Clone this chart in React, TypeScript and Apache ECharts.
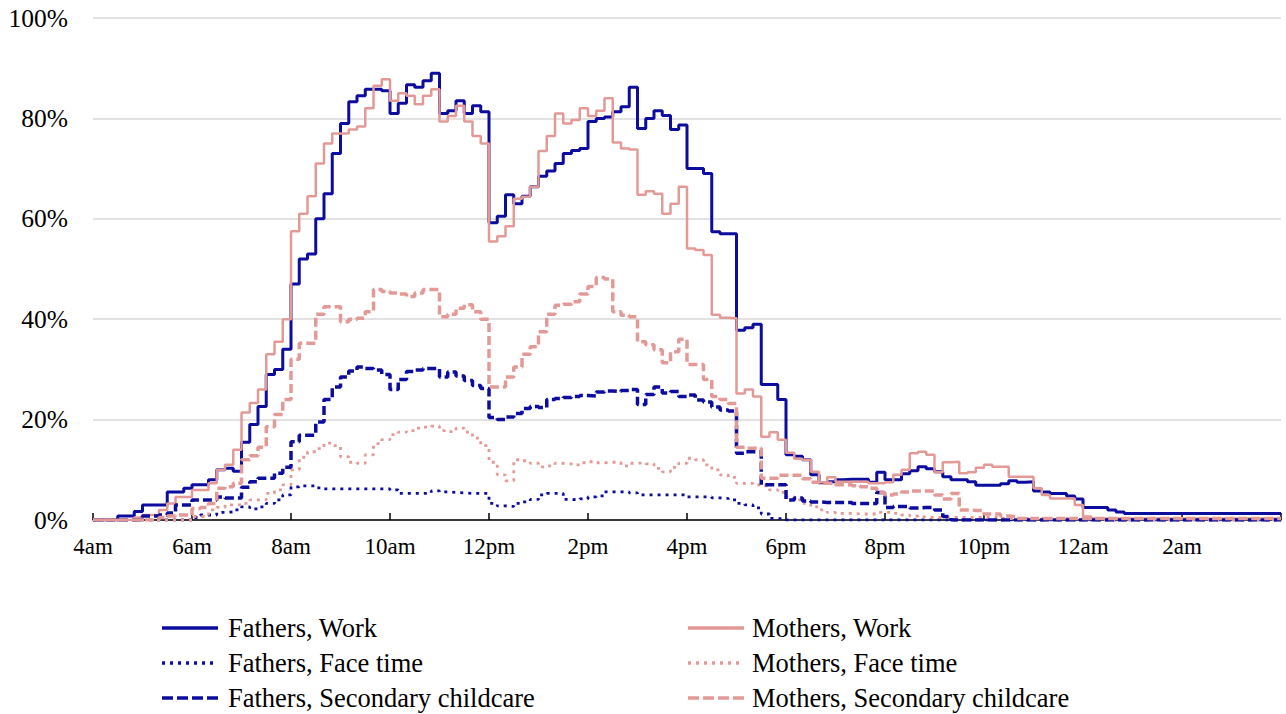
import React, { useEffect, useRef } from 'react';
import * as echarts from 'echarts';

// Share of parents (%) engaged in each activity, in 10-minute slots from 4am to 4am the next day.
const HOUR_LABELS = ['4am', '6am', '8am', '10am', '12pm', '2pm', '4pm', '6pm', '8pm', '10pm', '12am', '2am'];
const SLOTS_PER_HOUR = 6;

const FATHERS_WORK = [
  0, 0, 0, 0.8, 0.8, 1.7,
  3, 3, 3, 5.6, 5.6, 6.3,
  7, 7, 8, 10, 10.3, 9.7,
  15.5, 19, 22.6, 29, 30, 34,
  47, 52, 53, 60, 65, 73,
  79, 83.3, 84.5, 85.8, 85.8, 85.5,
  81, 83, 86.7, 86.2, 87.5, 89,
  81, 81.5, 83.5, 81, 82.5, 81.3,
  59.2, 60.5, 64.8, 63, 64.5, 66.4,
  68.5, 69.5, 71, 73, 73.6, 74,
  79.4, 80, 80.3, 81.3, 82.3, 86.2,
  78, 80, 81.5, 80.6, 77.8, 78.7,
  70, 70, 69, 57.4, 57, 57,
  37.8, 38.3, 39, 27, 27, 24,
  13, 12.7, 12, 9, 7.4, 7.6,
  8, 8.1, 8.1, 8.1, 7.5, 9.5,
  8, 8, 9.2, 9.8, 10.6, 10.2,
  9.6, 8.6, 8, 8, 7.6, 6.9,
  6.9, 6.9, 7.2, 7.8, 7.5, 7.6,
  5.8, 5.6, 5.3, 5.3, 4.8, 4.2,
  2.5, 2.5, 2.5, 2.0, 1.6, 1.3,
  1.3, 1.3, 1.3, 1.3, 1.3, 1.3,
  1.3, 1.3, 1.3, 1.3, 1.3, 1.3,
  1.3, 1.3, 1.3, 1.3, 1.3, 1.3,
  1.3,
];

const MOTHERS_WORK = [
  0, 0, 0, 0, 0, 0.5,
  1, 1, 2, 3.3, 4.6, 4.6,
  6, 6, 7.3, 10, 11, 14,
  21.4, 23.3, 26, 33, 35.5, 40,
  57.5, 61, 64.5, 71, 75, 77,
  77, 77.8, 78.4, 82, 86.5, 87.8,
  83.5, 85, 84.5, 82.8, 84.5, 85.8,
  79.4, 80.5, 82.5, 79.4, 76.5, 75,
  55.5, 56.5, 58.5, 64, 64.4, 66.4,
  73.5, 76.5, 81, 79, 79.7, 82,
  80.5, 81.5, 84, 75.2, 74, 73.8,
  64.8, 65.5, 65, 61, 63, 66.4,
  54.1, 53.8, 52.8, 40.9, 40.3, 40.2,
  25.2, 26, 24.6, 16.6, 17.5, 16,
  13.4, 12.2, 12, 9.6, 7.5, 8.5,
  7.6, 7.6, 7.6, 7.6, 7.3, 7.3,
  7.5, 9, 10, 13.3, 13.6, 13,
  9.5, 11.5, 11.6, 9.3, 9.5, 10.4,
  11, 10.6, 10.6, 8.6, 8.6, 8.6,
  6.3, 5, 4.3, 4.3, 4.3, 3,
  0.7, 0.3, 0.3, 0.3, 0.3, 0.3,
  0.3, 0.3, 0.3, 0.3, 0.3, 0.3,
  0.3, 0.3, 0.3, 0.3, 0.3, 0.3,
  0.3, 0.3, 0.3, 0.3, 0.3, 0.3,
  0.3,
];

const FATHERS_FACE_TIME = [
  0, 0, 0, 0, 0, 0,
  0, 0, 0, 0, 0, 0,
  0.5, 1, 1, 1.5, 1.6, 2,
  2.6, 2.2, 2.6, 3.3, 4, 5,
  6.6, 6.8, 6.8, 6.4, 6.2, 6.2,
  6.2, 6.2, 6.2, 6.2, 6.2, 6.2,
  6, 5.3, 5.3, 5.3, 5.3, 5.8,
  5.6, 5.5, 5.4, 5.3, 5.3, 5.3,
  3.3, 2.8, 2.7, 3.3, 3.6, 4.1,
  5, 5.3, 5.3, 4.1, 4, 4.2,
  4.6, 4.8, 5.6, 5.6, 5.6, 5.4,
  5, 5, 5, 5, 5, 5,
  4.6, 4.6, 4.6, 4.4, 4.3, 4,
  3.3, 3, 2.4, 1.2, 0.3, 0.2,
  0, 0, 0, 0, 0, 0,
  0, 0, 0, 0, 0, 0,
  0, 0, 0, 0, 0, 0,
  0, 0, 0, 0, 0, 0,
  0, 0, 0, 0, 0, 0,
  0, 0, 0, 0, 0, 0,
  0, 0, 0, 0, 0, 0,
  0, 0, 0, 0, 0, 0,
  0, 0, 0, 0, 0, 0,
  0, 0, 0, 0, 0, 0,
  0,
];

const MOTHERS_FACE_TIME = [
  0, 0, 0, 0, 0, 0,
  0, 0, 0, 0, 0, 0,
  0.7, 0.7, 2, 2.5, 3, 3,
  3.3, 4, 4, 5.3, 6, 7,
  10, 12.5, 13.6, 14.2, 15.3, 14.8,
  12.6, 11.5, 11.3, 13, 15.2, 16,
  17, 17.5, 17.8, 18.3, 18.5, 18.7,
  17.8, 17.6, 18.3, 17.5, 16.3, 14.8,
  11.5, 9, 7.8, 12, 11.8, 11.3,
  10.6, 10.8, 11.3, 11.2, 11, 11.4,
  11.6, 11.4, 11.5, 11.5, 10.8, 11.3,
  11.4, 11.2, 10.3, 9.6, 10.5, 11.3,
  12.3, 12, 11, 10, 9, 8.5,
  7.3, 7.3, 7, 6.8, 6, 5.5,
  4.6, 4, 3.3, 2.6, 2, 1.5,
  1.3, 1.3, 1.2, 1.2, 1.2, 1.5,
  1.5, 1.3, 1, 0.8, 0.6, 0.5,
  0.5, 0.5, 0.5, 0.5, 0.5, 0.5,
  0.5, 0.5, 0.3, 0.3, 0.3, 0.3,
  0.3, 0.3, 0.3, 0.3, 0.3, 0.3,
  0.3, 0, 0, 0, 0, 0,
  0, 0, 0, 0, 0, 0,
  0, 0, 0, 0, 0, 0,
  0, 0, 0, 0, 0, 0,
  0,
];

const FATHERS_SECONDARY = [
  0, 0, 0, 0, 0, 0,
  0.8, 0.8, 1, 1.4, 3, 3,
  4, 4, 4, 4.6, 4.4, 4.4,
  6.5, 7.6, 8.3, 8.3, 9.3, 10.5,
  15.6, 16.9, 16.9, 19.5, 24, 26.5,
  28.5, 29.7, 30.5, 30.2, 29.9, 29,
  26, 28, 29.6, 29.9, 30.2, 30.2,
  28.5, 29.5, 28.7, 27.8, 26.8, 26.2,
  20.4, 20, 20.5, 21.2, 22.2, 22.6,
  22.4, 24, 24.2, 24.4, 24.6, 24.8,
  24.7, 25.5, 25.7, 25.6, 25.8, 26,
  23, 25, 26.5, 25.3, 25.6, 24.6,
  24.9, 23.9, 23.5, 22.5, 21.9, 21.7,
  13.3, 13.6, 13.6, 7, 7, 7,
  4, 4.4, 3.8, 3.6, 3.5, 3.5,
  3.5, 3.5, 3.3, 3.3, 3.3, 5.5,
  2.5, 2.7, 2.7, 2.4, 2.5, 2.5,
  2, 0.7, 0, 0, 0, 0,
  0, 0, 0, 0, 0, 0,
  0, 0, 0, 0, 0, 0,
  0, 0, 0, 0, 0, 0,
  0, 0, 0, 0, 0, 0,
  0, 0, 0, 0, 0, 0,
  0, 0, 0, 0, 0, 0,
  0,
];

const MOTHERS_SECONDARY = [
  0, 0, 0, 0, 0, 0,
  0, 0, 0.5, 0.8, 1, 1,
  2.3, 2.5, 3.3, 6.3, 6.6, 7.3,
  12, 12.8, 14.5, 18.6, 21, 24,
  32, 35.2, 35.2, 41, 42.5, 42.5,
  39.5, 40, 40.2, 41.5, 45.9, 45.5,
  45.2, 45, 44.5, 45.2, 45.9, 45.9,
  40.5, 41, 42.2, 42.9, 41.5, 40,
  26.5, 26.5, 28.5, 30.5, 33, 34.5,
  37.5, 41, 42.8, 43, 43.5, 45,
  46.5, 48.3, 48, 41.5, 40.8, 40.5,
  35.5, 34.9, 33.9, 31.3, 33.5, 36,
  31, 31, 28, 24.6, 24, 23.2,
  14.5, 14.3, 14.3, 8.3, 8.3, 8.9,
  8.9, 8.9, 8.2, 7.5, 7.3, 7.3,
  7, 7, 6.8, 6.6, 6.3, 5.5,
  5, 5.2, 5.6, 5.8, 5.8, 5.8,
  5, 4.2, 5.3, 2, 1.9, 1.9,
  1.2, 1.2, 0.8, 0.7, 0.3, 0.3,
  0.3, 0.3, 0.3, 0.3, 0.3, 0.3,
  0.3, 0.3, 0.3, 0.3, 0.3, 0.3,
  0.3, 0.3, 0.3, 0.3, 0.3, 0.3,
  0.3, 0.3, 0.3, 0.3, 0.3, 0.3,
  0.3, 0.3, 0.3, 0.3, 0.3, 0.3,
  0.3,
];

const BLUE = '#0c0c9e';
const PINK = '#e39a96';
const FONT = '"Liberation Serif", "Times New Roman", serif';

const DOTTED = [3, 5];
const DASHED = [9, 4];

type Line = {
  name: string;
  values: number[];
  color: string;
  width: number;
  dash: 'solid' | number[];
  legendDash: number[] | null;
};

// Drawing order follows the legend: each father/mother pair row by row.
const LINES: Line[] = [
  { name: 'Fathers, Work', values: FATHERS_WORK, color: BLUE, width: 3, dash: 'solid', legendDash: null },
  { name: 'Mothers, Work', values: MOTHERS_WORK, color: PINK, width: 2.5, dash: 'solid', legendDash: null },
  { name: 'Fathers, Face time', values: FATHERS_FACE_TIME, color: BLUE, width: 2.8, dash: DOTTED, legendDash: [3, 5] },
  { name: 'Mothers, Face time', values: MOTHERS_FACE_TIME, color: PINK, width: 2.8, dash: DOTTED, legendDash: [3, 5] },
  { name: 'Fathers, Secondary childcare', values: FATHERS_SECONDARY, color: BLUE, width: 3.5, dash: DASHED, legendDash: [11, 4] },
  { name: 'Mothers, Secondary childcare', values: MOTHERS_SECONDARY, color: PINK, width: 3.5, dash: DASHED, legendDash: [11, 4] },
];

// Two-column key under the plot: fathers on the left, mothers on the right.
const KEY_COLUMNS = [
  { lineX: 162, textX: 228 },
  { lineX: 688, textX: 752 },
];
const KEY_ROWS_Y = [628, 663, 698];
const KEY_LINE_LENGTH = 56;

function keyGraphics() {
  const out: any[] = [];
  LINES.forEach((l, i) => {
    const col = KEY_COLUMNS[i % 2];
    const y = KEY_ROWS_Y[Math.floor(i / 2)];
    out.push({
      type: 'line',
      silent: true,
      shape: { x1: col.lineX, y1: y, x2: col.lineX + KEY_LINE_LENGTH, y2: y },
      style: {
        stroke: l.color,
        lineWidth: 3.5,
        lineDash: l.legendDash ?? undefined,
        lineCap: 'butt',
      },
    });
    out.push({
      type: 'text',
      silent: true,
      x: col.textX,
      y,
      style: {
        text: l.name,
        fontFamily: FONT,
        fontSize: 26.5,
        fill: '#000',
        verticalAlign: 'middle',
        align: 'left',
      },
    });
  });
  return out;
}

export default function App() {
  const ref = useRef<HTMLDivElement>(null);

  useEffect(() => {
    if (!ref.current) return;
    const chart = echarts.init(ref.current, undefined, { renderer: 'svg' });
    chart.setOption({
      animation: false,
      backgroundColor: '#ffffff',
      grid: { left: 93, right: 5, top: 18, bottom: 194, containLabel: false },
      xAxis: {
        type: 'value',
        min: 0,
        max: 24,
        interval: 2,
        axisLine: { show: true, onZero: false, lineStyle: { color: '#000', width: 1.5 } },
        axisTick: { show: true, inside: true, length: 7, lineStyle: { color: '#000', width: 1.5 } },
        splitLine: { show: false },
        axisLabel: {
          fontFamily: FONT,
          fontSize: 23,
          color: '#000',
          margin: 15,
          formatter: (v: number) => HOUR_LABELS[Math.round(v / 2)] ?? '',
        },
      },
      yAxis: {
        type: 'value',
        min: 0,
        max: 100,
        interval: 20,
        axisLine: { show: false },
        axisTick: { show: false },
        splitLine: { lineStyle: { color: '#d9d9d9', width: 1.5 } },
        axisLabel: { fontFamily: FONT, fontSize: 25.5, color: '#000', margin: 25, formatter: '{value}%' },
      },
      graphic: keyGraphics(),
      series: LINES.map((l) => ({
        name: l.name,
        type: 'line',
        step: 'end',
        symbol: 'none',
        showSymbol: false,
        color: l.color,
        lineStyle: { color: l.color, width: l.width, type: l.dash, cap: 'butt' },
        emphasis: { disabled: true },
        data: l.values.map((v, i) => [i / SLOTS_PER_HOUR, v]),
      })),
    });
    return () => chart.dispose();
  }, []);

  return <div ref={ref} style={{ position: 'absolute', left: 0, top: 0, width: 1286, height: 714 }} />;
}
